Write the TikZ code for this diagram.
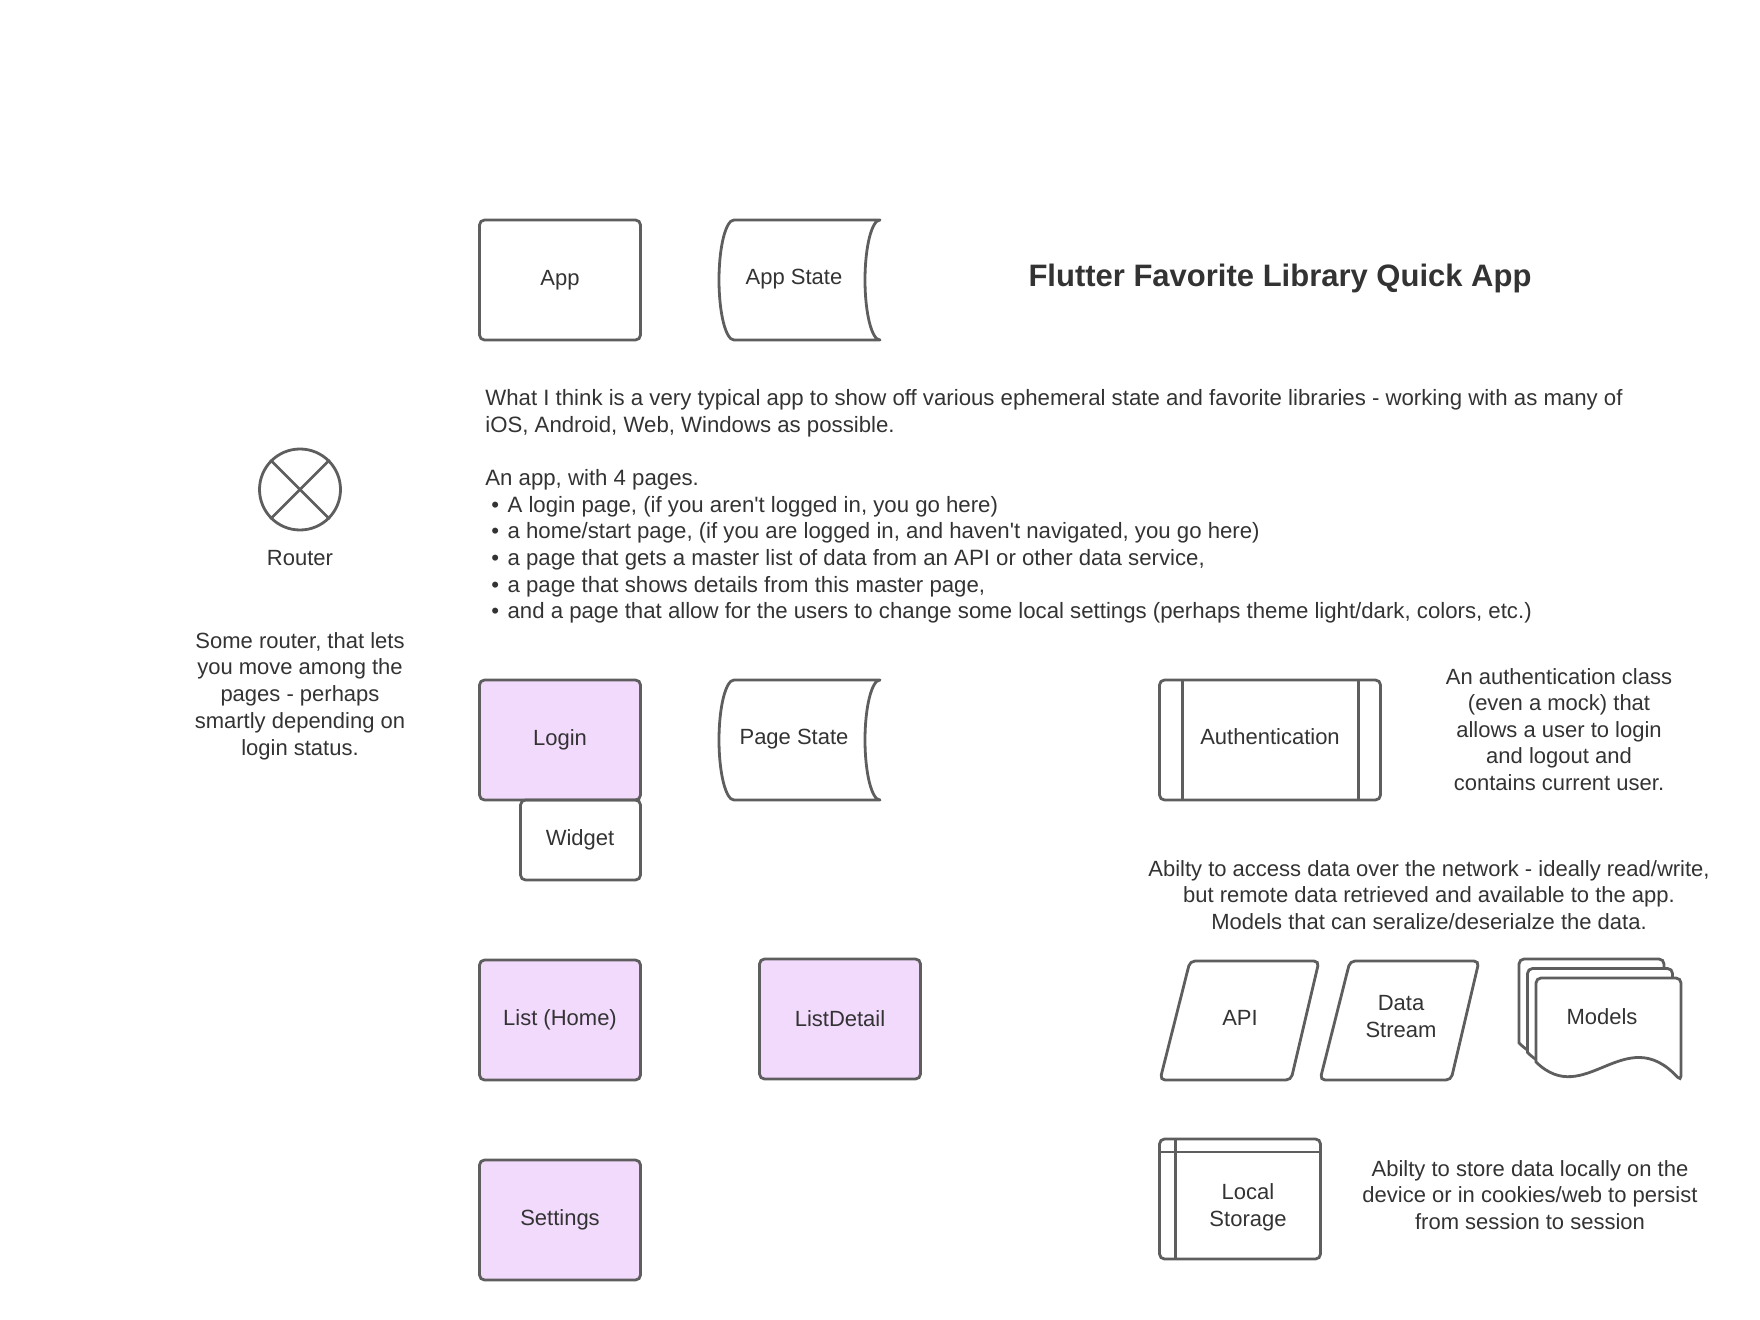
\documentclass[tikz,border=0pt]{standalone}
\usepackage{fontspec}
\setmainfont{Liberation Sans}
\definecolor{linegray}{HTML}{5E5E5E}
\definecolor{textgray}{HTML}{333333}
\definecolor{pagepurple}{HTML}{F2DAFD}
\begin{document}
\begin{tikzpicture}[x=0.5pt,y=-0.5pt,
  every node/.style={font=\fontsize{11}{13.3}\selectfont,text=textgray},
  outline/.style={draw=linegray,line width=1.4pt},
  box/.style={outline,rounded corners=2.5pt,minimum width=80.5pt,minimum height=60pt,inner sep=0pt,outer sep=0pt},
  pagebox/.style={box,fill=pagepurple},
  note/.style={align=center,inner sep=0pt}]
\useasboundingbox (0,0) rectangle (1760,1320);
\pgfmathsetmacro{\sw}{146}
\pgfmathsetmacro{\sh}{120}
\node[box] (app) at (560,280) {App};
\foreach \y/\n in {220/appstate,680/pagestate}{
\draw[outline,line join=round] (734,\y)--++(\sw,0) arc[start angle=90,end angle=270,x radius=7.5pt,y radius=30pt]--++(-\sw,0) arc[start angle=270,end angle=90,x radius=7.5pt,y radius=30pt]--cycle;
}
\node (appstate) at (794,279) {App State};
\node (pagestate) at (794,739) {Page State};
\node[font=\fontsize{15.5}{18}\selectfont\bfseries] (title) at (1280,278.5) {Flutter Favorite Library Quick App};
\node[anchor=west,align=left,inner sep=0pt,font=\fontsize{11.1}{13.3}\selectfont] (about) at (485,506.5) {What I think is a very typical app to show off various ephemeral state and favorite libraries - working with as many of\\
iOS, Android, Web, Windows as possible.\\[13.3pt]
An app, with 4 pages.\\
\hspace*{3pt}\textbullet\hspace{4.2pt}A login page, (if you aren\textquotesingle t logged in, you go here)\\
\hspace*{3pt}\textbullet\hspace{4.2pt}a home/start page, (if you are logged in, and haven\textquotesingle t navigated, you go here)\\
\hspace*{3pt}\textbullet\hspace{4.2pt}a page that gets a master list of data from an API or other data service,\\
\hspace*{3pt}\textbullet\hspace{4.2pt}a page that shows details from this master page,\\
\hspace*{3pt}\textbullet\hspace{4.2pt}and a page that allow for the users to change some local settings (perhaps theme light/dark, colors, etc.)};
\node[outline,circle,minimum size=40.5pt,inner sep=0pt] (router) at (300,489.5) {};
\draw[outline] (router.north west)--(router.south east) (router.north east)--(router.south west);
\node (routerlabel) at (300,558) {Router};
\node[note,font=\fontsize{11}{13.4}\selectfont] (routernote) at (300,696) {Some router, that lets\\you move among the\\pages - perhaps\\smartly depending on\\login status.};
\node[pagebox] (login) at (560,740) {Login};
\node[box,minimum width=60pt,minimum height=40pt,anchor=north east] (widget) at (login.south east) {};
\node (widgetlabel) at (580,839.5) {Widget};
\node[pagebox] (list) at (560,1020) {List (Home)};
\node[pagebox] (listdetail) at (840,1019) {ListDetail};
\node[pagebox] (settings) at (560,1220) {Settings};
\node[box,minimum width=110.5pt] (auth) at (1270,740) {};
\draw[outline] ([xshift=11.5pt]auth.north west)--([xshift=11.5pt]auth.south west) ([xshift=-11pt]auth.north east)--([xshift=-11pt]auth.south east);
\node (authlabel) at (1270,737) {Authentication};
\node[note] (authnote) at (1559,729.5) {An authentication class\\(even a mock) that\\allows a user to login\\and logout and\\contains current user.};
\node[note] (netnote) at (1429,895) {Abilty to access data over the network - ideally read/write,\\but remote data retrieved and available to the app.\\Models that can seralize/deserialze the data.};
\foreach \x in {0,160}{
\draw[outline,rounded corners=2.5pt] (1190+\x,961)--++(129,0)--++(-28,119)--++(-131,0)--cycle;
}
\node (api) at (1240,1018) {API};
\node[note] (datastream) at (1401,1016.5) {Data\\Stream};
\foreach \i in {2,1,0}{
\pgfmathsetmacro{\mx}{1536-8.5*\i}
\pgfmathsetmacro{\my}{978-9.5*\i}
\draw[outline,fill=white] (\mx,\my+84) [rounded corners=2.5pt]--(\mx,\my)--(\mx+145,\my)--(\mx+145,\my+103) [sharp corners] .. controls (\mx+89,\my+42) and (\mx+49,\my+132) .. (\mx,\my+84)--cycle;
}
\node (models) at (1602,1017) {Models};
\node[box] (storage) at (1240,1199) {};
\draw[outline] ([yshift=-6.5pt]storage.north west)--([yshift=-6.5pt]storage.north east) ([xshift=8pt]storage.north west)--([xshift=8pt]storage.south west);
\node[note] (storagelabel) at (1248,1207.5) {Local\\Storage};
\node[note] (storagenote) at (1530,1195) {Abilty to store data locally on the\\device or in cookies/web to persist\\from session to session};
\end{tikzpicture}
\end{document}
